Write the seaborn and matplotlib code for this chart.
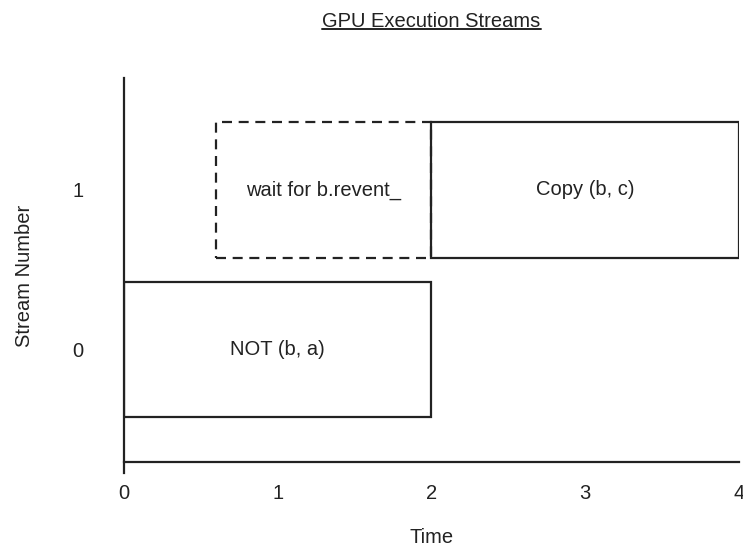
import matplotlib
matplotlib.use("Agg")
import matplotlib.pyplot as plt
from matplotlib.lines import Line2D
import seaborn as sns

# stream tasks
streams = [0, 1, 1]
starts = [0.0, 0.6, 2.0]
durations = [2.0, 1.4, 2.0]
labels = ["NOT (b, a)", "wait for b.revent_", "Copy (b, c)"]
dashed = [False, True, False]

sns.set_theme(style="white")
plt.rcParams['font.family'] = ['Liberation Sans', 'DejaVu Sans']

ink = "#222222"
fs = 14.5
fig = plt.figure(figsize=(7.43, 5.47), dpi=100)
ax = fig.add_axes([0.1669, 0.1353, 0.8277, 0.7221])

for s, x0, w, lab, d in zip(streams, starts, durations, labels, dashed):
    ax.barh(s, w, left=x0, height=0.845, fill=False, edgecolor=ink,
            linewidth=1.6, linestyle=(0, (4.5, 3)) if d else "-")
    ax.text(x0 + w / 2, s, lab, ha="center", va="center", fontsize=fs, color=ink)

ax.set_xlim(0, 4)
ax.set_ylim(-0.77, 1.7)
ax.spines["right"].set_visible(False)
ax.spines["top"].set_visible(False)
ax.spines["bottom"].set_position(("data", -0.7))
for sp in ["left", "bottom"]:
    ax.spines[sp].set_color(ink)
    ax.spines[sp].set_linewidth(1.6)

ax.set_xticks([0, 1, 2, 3, 4])
ax.set_xticks([0, 4], minor=True)
ax.tick_params(axis="x", which="major", length=0, pad=16, labelsize=fs, labelcolor=ink)
ax.tick_params(axis="x", which="minor", length=8, width=1.6, color=ink, bottom=True, direction="out")
ax.set_yticks([0, 1])
ax.tick_params(axis="y", length=0, pad=29, labelsize=fs, labelcolor=ink)

ax.set_xlabel("Time", fontsize=fs, color=ink, labelpad=18)
ax.set_ylabel("Stream Number", fontsize=fs, color=ink, labelpad=28)
title = ax.set_title("GPU Execution Streams", fontsize=fs, color=ink, pad=37)

# underline the title
fig.canvas.draw()
bb = title.get_window_extent().transformed(fig.transFigure.inverted())
uy = bb.y0 + 0.003
fig.add_artist(Line2D([bb.x0, bb.x1], [uy, uy], transform=fig.transFigure,
                      color=ink, linewidth=1.4))

fig.savefig("out.png", dpi=100)
